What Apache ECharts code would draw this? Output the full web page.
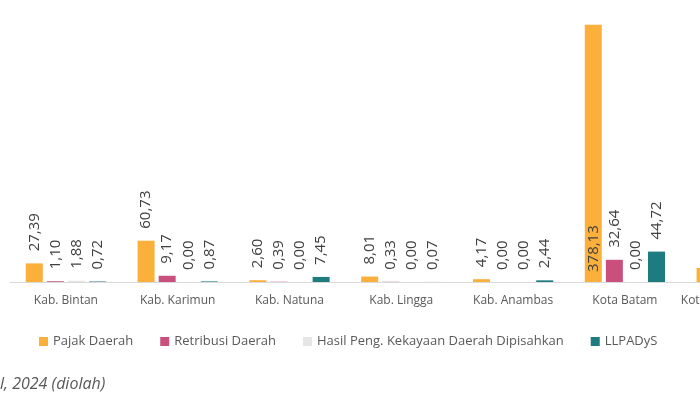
<!DOCTYPE html>
<html>
<head>
<meta charset="utf-8">
<script src="https://cdn.jsdelivr.net/npm/echarts@6/dist/echarts.min.js"></script>
<style>
html,body{margin:0;padding:0;background:#fff;overflow:hidden;width:700px;height:400px;}
#chart{width:900px;height:400px;}
</style>
</head>
<body>
<div id="chart"></div>
<script>
const categories = ['Kab. Bintan','Kab. Karimun','Kab. Natuna','Kab. Lingga','Kab. Anambas','Kota Batam','Kota Tanjungpinang'];
const seriesNames = ['Pajak Daerah','Retribusi Daerah','Hasil Peng. Kekayaan Daerah Dipisahkan','LLPADyS'];
const pajakDaerah = [27.39, 60.73, 2.60, 8.01, 4.17, 378.13, 20.6];
const retribusiDaerah = [1.10, 9.17, 0.39, 0.33, 0.00, 32.64, null];
const hasilKekayaan = [1.88, 0.00, 0.00, 0.00, 0.00, 0.00, null];
const llpadys = [0.72, 0.87, 7.45, 0.07, 2.44, 44.72, null];
const colors = ['#FBB03B','#C9507D','#E6E6E6','#1E7B80'];
const footnote = 'l, 2024 (diolah)';

const FONT = '"Open Sans", sans-serif';
const fmt = p => (p.value == null ? '' : p.value.toFixed(2).replace('.', ','));
const baseLabel = {
  show: true, position: 'top', rotate: 90, align: 'left', verticalAlign: 'middle',
  distance: 12, fontSize: 15, fontFamily: FONT, color: '#404040', formatter: fmt
};
function mk(name, data, color, specialInside, hidden) {
  return {
    name, type: 'bar', barWidth: 17, barGap: '24%',
    itemStyle: { color },
    label: baseLabel,
    data: data.map((v, i) => {
      if (specialInside && specialInside.includes(i)) {
        return { value: v, label: Object.assign({}, baseLabel, { position: 'insideBottom', distance: 10 }) };
      }
      if (hidden && hidden.includes(i)) {
        return { value: v, label: { show: false } };
      }
      return v;
    })
  };
}
const chart = echarts.init(document.getElementById('chart'));
chart.setOption({
  animation: false,
  backgroundColor: '#ffffff',
  color: colors,
  grid: { left: 10, top: 10, width: 782.6, height: 272, containLabel: false },
  xAxis: {
    type: 'category', data: categories,
    axisLine: { lineStyle: { color: '#d9d9d9', width: 1 } },
    axisTick: { show: false },
    axisLabel: { color: '#595959', fontSize: 12, fontFamily: FONT, margin: 13, interval: 0 }
  },
  yAxis: { type: 'value', min: 0, max: 400, show: false, splitLine: { show: false } },
  legend: {
    left: 39, top: 335, padding: 0, itemWidth: 9, itemHeight: 9, itemGap: 27, icon: 'rect',
    textStyle: { color: '#595959', fontSize: 13, fontFamily: FONT },
    data: seriesNames
  },
  graphic: [{
    type: 'text', left: 0, top: 376,
    style: { text: footnote, fill: '#595959', font: 'italic 16px "Open Sans", sans-serif' }
  }],
  series: [
    mk(seriesNames[0], pajakDaerah, colors[0], [5], [6]),
    mk(seriesNames[1], retribusiDaerah, colors[1]),
    mk(seriesNames[2], hasilKekayaan, colors[2]),
    mk(seriesNames[3], llpadys, colors[3])
  ]
});
</script>
</body>
</html>
